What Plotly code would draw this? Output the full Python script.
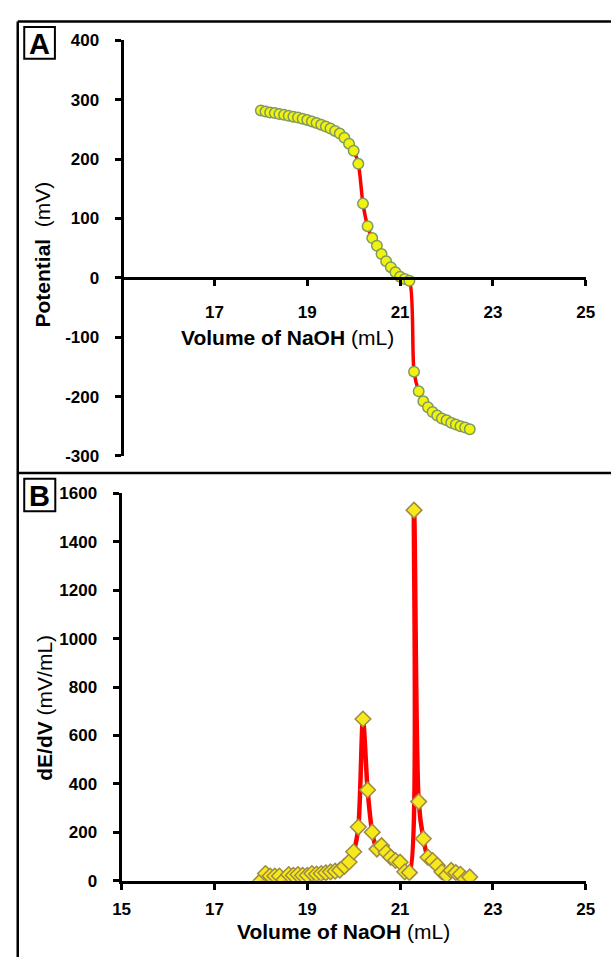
import plotly.graph_objects as go

# ---------------- data ----------------
volume_ml = [18.0, 18.1, 18.2, 18.3, 18.4, 18.5, 18.6, 18.7, 18.8, 18.9,
             19.0, 19.1, 19.2, 19.3, 19.4, 19.5, 19.6, 19.7, 19.8, 19.9,
             20.0, 20.1, 20.2, 20.3, 20.4, 20.5, 20.6, 20.7, 20.8, 20.9,
             21.0, 21.1, 21.2, 21.3, 21.4, 21.5, 21.6, 21.7, 21.8, 21.9,
             22.0, 22.1, 22.2, 22.3, 22.4, 22.5]

potential_mv = [282, 280, 278.5, 277.5, 276, 274.5, 273, 271.5, 270, 268,
                266, 263.5, 261, 258, 255, 251.5, 247.5, 243, 236, 226,
                214, 192, 125, 87, 67, 54, 40, 28, 18, 9.5,
                2, -2, -5, -158, -191, -208, -218, -226, -232, -237,
                -240, -244, -247, -250, -252, -255]

dEdV = [0, 30, 20, 20, 20, 5, 26, 23, 26, 23,
        23, 30, 28, 30, 33, 37, 40, 44, 60, 78,
        120, 222, 668, 375, 201, 131, 145, 117, 97, 84,
        77, 37, 34, 1530, 327, 174, 97, 84, 64, 37,
        23, 43, 34, 27, 7, 16]

xticks_a = [17, 19, 21, 23, 25]
xticks_b = [15, 17, 19, 21, 23, 25]
yticks_a = [-300, -200, -100, 0, 100, 200, 300, 400]
yticks_a_text = ["-300", "-200", "-100", "0", "100", "200", "300", "400"]
yticks_b = [0, 200, 400, 600, 800, 1000, 1200, 1400, 1600]

# ---------------- layout helpers ----------------
W, H = 611, 957
def px(x):
    return x / W
def py(y):
    return 1 - y / H

FONT = "Liberation Sans, Arial, sans-serif"
RED = "#ff0000"

fig = go.Figure()

fig.add_trace(go.Scatter(
    x=volume_ml, y=potential_mv, mode="lines+markers",
    line=dict(color=RED, width=3.5, shape="spline", smoothing=0.8),
    marker=dict(symbol="circle", size=10.5, color="#f2f20f",
                line=dict(color="#7e9a62", width=1.5)),
    xaxis="x", yaxis="y", showlegend=False))

fig.add_trace(go.Scatter(
    x=volume_ml, y=dEdV, mode="lines+markers",
    line=dict(color=RED, width=4.5, shape="spline", smoothing=0.8),
    marker=dict(symbol="diamond", size=12, color="#f7e81c",
                line=dict(color="#9c8a45", width=1.5)),
    xaxis="x2", yaxis="y2", showlegend=False))

xdom = [px(116), px(594.3)]
ydom_a = [py(456), py(32)]
ydom_b = [py(889.5), py(494)]
zero_a = ydom_a[0] + (ydom_a[1] - ydom_a[0]) * 300 / 700

tickfont = dict(family=FONT, size=17, color="black", weight="bold")
axis_common = dict(showline=True, linecolor="black", linewidth=3,
                   ticks="outside", tickcolor="black", tickwidth=2.5,
                   ticklen=6, showgrid=False, zeroline=False,
                   tickfont=tickfont, fixedrange=True)

fig.update_layout(
    width=W, height=H,
    margin=dict(l=0, r=0, t=0, b=0),
    paper_bgcolor="white", plot_bgcolor="rgba(0,0,0,0)",
    xaxis=dict(domain=xdom, range=[15, 25], tickvals=xticks_a,
               anchor="free", position=zero_a, ticklabelstandoff=12,
               **axis_common),
    yaxis=dict(domain=ydom_a, range=[-300, 400], tickvals=yticks_a,
               ticktext=yticks_a_text,
               anchor="free", position=xdom[0], ticklabelstandoff=12,
               **axis_common),
    xaxis2=dict(domain=xdom, range=[15, 25], tickvals=xticks_b,
                anchor="y2", ticklabelstandoff=5, **axis_common),
    yaxis2=dict(domain=ydom_b, range=[0, 1600], tickvals=yticks_b,
                anchor="x2", ticklabelstandoff=12, **axis_common),
)

# panel frames
frame = dict(color="black", width=2.5)
fig.add_shape(type="line", xref="paper", yref="paper",
              x0=px(9), x1=1.02, y0=py(12.7), y1=py(12.7), line=frame)
fig.add_shape(type="line", xref="paper", yref="paper",
              x0=px(9), x1=px(9), y0=py(12.7), y1=-0.02, line=frame)
fig.add_shape(type="line", xref="paper", yref="paper",
              x0=px(9), x1=1.02, y0=py(473.3), y1=py(473.3), line=frame)

# panel letter boxes
for (x0, y0, x1, y1, letter) in [(15.7, 18.3, 47.3, 50.7, "A"),
                                 (15.7, 479.3, 47.7, 512.3, "B")]:
    fig.add_shape(type="rect", xref="paper", yref="paper",
                  x0=px(x0), x1=px(x1), y0=py(y1), y1=py(y0),
                  line=dict(color="black", width=2), fillcolor="white")
    fig.add_annotation(xref="paper", yref="paper",
                       x=px((x0 + x1) / 2), y=py((y0 + y1) / 2 + 1),
                       text="<b>%s</b>" % letter, showarrow=False,
                       font=dict(family=FONT, size=29, color="black"),
                       xanchor="center", yanchor="middle")

titlefont = dict(family=FONT, size=21, color="black")
# axis titles
fig.add_annotation(xref="paper", yref="paper", x=px(35), y=py(250.5),
                   text="<b>Potential</b>\u00a0\u00a0(mV)", textangle=-90,
                   showarrow=False, font=titlefont,
                   xanchor="center", yanchor="middle")
fig.add_annotation(xref="paper", yref="paper", x=px(287), y=py(335),
                   text="<b>Volume of NaOH</b> (mL)",
                   showarrow=False, font=titlefont,
                   xanchor="center", yanchor="middle")
fig.add_annotation(xref="paper", yref="paper", x=px(37), y=py(713),
                   text="<b>dE/dV</b> (mV/mL)", textangle=-90,
                   showarrow=False, font=titlefont,
                   xanchor="center", yanchor="middle")
fig.add_annotation(xref="paper", yref="paper", x=px(345), y=py(941),
                   text="<b>Volume of NaOH</b> (mL)",
                   showarrow=False, font=titlefont,
                   xanchor="center", yanchor="middle")

fig.write_html("out.html")
